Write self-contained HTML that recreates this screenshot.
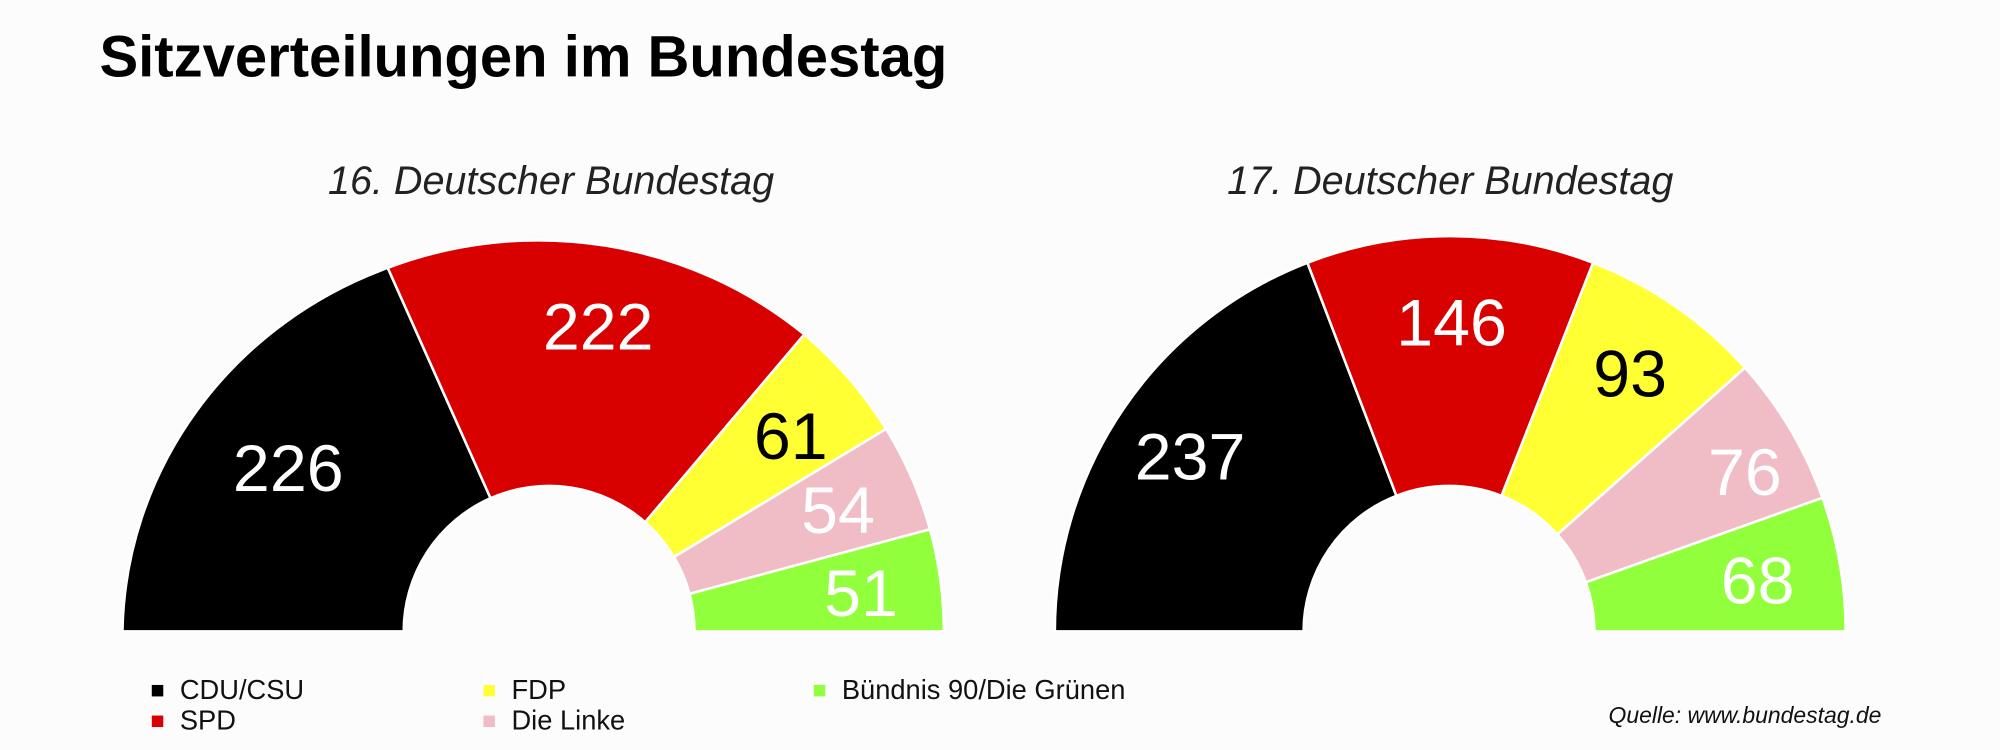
<!DOCTYPE html>
<html><head><meta charset="utf-8"><style>
html,body{margin:0;padding:0;background:#fcfcfc;}
svg{display:block}
</style></head><body>
<svg width="2000" height="750" viewBox="0 0 1568 588" xmlns="http://www.w3.org/2000/svg" font-family="Liberation Sans, sans-serif">
<rect width="1568" height="588" fill="#fcfcfc"/>
<text x="78" y="60" font-size="45.5" font-weight="bold" fill="#000">Sitzverteilungen im Bundestag</text>
<text x="432" y="152" font-size="31" font-style="italic" text-anchor="middle" fill="#222">16. Deutscher Bundestag</text>
<text x="1137" y="152" font-size="31" font-style="italic" text-anchor="middle" fill="#222">17. Deutscher Bundestag</text>
<g stroke="#fff" stroke-width="2">
<path d="M96,495 A322,310 0 0 1 304,210 L384.6,390.6 A114,114 0 0 0 316.5,495 Z" fill="#000"/>
<path d="M304,210 A322,310 0 0 1 630.6,262.2 L505.8,409.4 A114,114 0 0 0 384.6,390.6 Z" fill="#d90000"/>
<path d="M630.6,262.2 A322,310 0 0 1 694.7,336.3 L528.4,436.7 A114,114 0 0 0 505.8,409.4 Z" fill="#ffff33"/>
<path d="M694.7,336.3 A322,310 0 0 1 729.1,415 L540.6,465.6 A114,114 0 0 0 528.4,436.7 Z" fill="#f0bcc6"/>
<path d="M729.1,415 A322,310 0 0 1 740,495 L544.5,495 A114,114 0 0 0 540.6,465.6 Z" fill="#92ff3c"/>
<path d="M827,495 A310,310 0 0 1 1025,206 L1094.8,388.7 A114,114 0 0 0 1022,495 Z" fill="#000"/>
<path d="M1025,206 A310,310 0 0 1 1249,206 L1177.2,388.7 A114,114 0 0 0 1094.8,388.7 Z" fill="#d90000"/>
<path d="M1249,206 A310,310 0 0 1 1368.1,288.3 L1221,419 A114,114 0 0 0 1177.2,388.7 Z" fill="#ffff33"/>
<path d="M1368.1,288.3 A310,310 0 0 1 1428.8,390.3 L1243.3,456.5 A114,114 0 0 0 1221,419 Z" fill="#f0bcc6"/>
<path d="M1428.8,390.3 A310,310 0 0 1 1447,495 L1250,495 A114,114 0 0 0 1243.3,456.5 Z" fill="#92ff3c"/>
</g>
<g font-size="52" text-anchor="middle">
<text x="226" y="385" fill="#fff">226</text>
<text x="469" y="274" fill="#fff">222</text>
<text x="620" y="360" fill="#000">61</text>
<text x="657" y="418" fill="#fff">54</text>
<text x="675" y="483" fill="#fff">51</text>
<text x="933" y="376" fill="#fff">237</text>
<text x="1138" y="271" fill="#fff">146</text>
<text x="1278" y="311" fill="#000">93</text>
<text x="1368" y="388" fill="#fff">76</text>
<text x="1378" y="473" fill="#fff">68</text>
</g>
<g font-size="21.4" fill="#111">
<rect x="119" y="537" width="9" height="9" fill="#000"/><text x="141" y="548">CDU/CSU</text>
<rect x="119" y="561" width="9" height="9" fill="#d90000"/><text x="141" y="572">SPD</text>
<rect x="379" y="537" width="9" height="9" fill="#ffff33"/><text x="401" y="548">FDP</text>
<rect x="379" y="561" width="9" height="9" fill="#f0bcc6"/><text x="401" y="572">Die Linke</text>
<rect x="638" y="537" width="9" height="9" fill="#92ff3c"/><text x="660" y="548">Bündnis 90/Die Grünen</text>
</g>
<text x="1475" y="567" font-size="18" font-style="italic" text-anchor="end" fill="#111">Quelle: www.bundestag.de</text>
</svg>
</body></html>
